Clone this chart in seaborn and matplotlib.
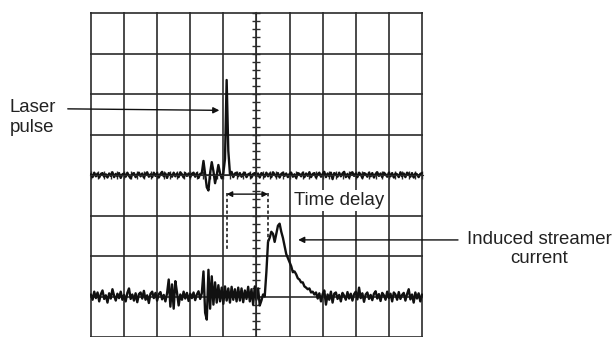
import numpy as np
import pandas as pd
import matplotlib.pyplot as plt
import seaborn as sns

# time axis in screen divisions (10 horizontal divisions, centre = 0)
t = np.linspace(-5, 5, 201)

# upper channel: laser pulse (divisions above its baseline)
laser = [
    0.02, -0.05, 0.06, -0.03, 0.04, -0.06, 0.03, 0.05, -0.04, 0.02,
    -0.06, 0.04, -0.02, 0.07, -0.05, 0.03, -0.03, 0.05, -0.07, 0.02,
    0.04, -0.04, 0.06, -0.02, -0.08, 0.03, 0.05, -0.05, 0.02, 0.06,
    -0.03, 0.04, -0.06, 0.03, 0.07, -0.04, 0.02, -0.05, 0.06, -0.02,
    0.05, -0.06, 0.03, 0.08, -0.03, 0.04, -0.07, 0.05, 0.02, -0.04,
    0.06, -0.03, 0.04, -0.05, 0.07, 0.02, -0.06, 0.05, -0.02, 0.04,
    -0.05, 0.03, 0.06, -0.04, 0.05, -0.07, 0.03, 0.05, 0.35, 0.02,
    -0.30, -0.38, 0.05, 0.32, 0.10, -0.20, 0.00, 0.25, 0.05, -0.08,
    0.05, 0.40, 2.35, 0.60, 0.03, 0.08, -0.05, 0.04, 0.06, -0.03,
    0.05, -0.04, 0.03, 0.06, -0.05, 0.02, 0.04, -0.06, 0.03, 0.05,
    -0.03, 0.04, -0.06, 0.05, 0.02, -0.04, 0.06, -0.03, 0.04, -0.05,
    0.07, 0.02, -0.04, 0.05, -0.06, 0.03, 0.06, -0.02, 0.04, -0.05,
    0.03, 0.06, -0.04, 0.02, -0.07, 0.05, 0.03, -0.03, 0.06, -0.05,
    0.04, -0.02, 0.07, -0.05, 0.03, 0.05, -0.06, 0.02, 0.06, -0.04,
    0.03, 0.08, -0.05, 0.04, -0.03, 0.06, -0.10, 0.05, 0.02, -0.04,
    0.06, -0.03, 0.04, 0.08, -0.05, 0.03, -0.06, 0.05, 0.07, -0.02,
    0.04, -0.05, 0.06, 0.02, -0.07, 0.05, 0.03, -0.04, 0.06, -0.03,
    0.05, -0.06, 0.03, 0.07, -0.02, 0.04, -0.05, 0.06, 0.02, -0.04,
    0.06, -0.03, 0.05, -0.06, 0.04, 0.02, -0.05, 0.07, -0.03, 0.04,
    -0.05, 0.06, 0.03, -0.04, 0.05, -0.06, 0.04, 0.02, -0.05, 0.03,
    0.05,
]

# lower channel: induced streamer current (divisions above its baseline)
streamer = [
    0.05, -0.08, 0.12, -0.04, 0.10, -0.12, 0.06, 0.15, -0.06, 0.03,
    -0.15, 0.08, -0.05, 0.18, 0.02, -0.10, 0.07, -0.04, 0.12, -0.08,
    0.04, -0.12, 0.09, 0.20, -0.06, 0.05, -0.10, 0.08, -0.14, 0.06,
    0.10, -0.05, 0.14, -0.08, 0.03, -0.16, 0.07, 0.12, -0.04, 0.09,
    -0.10, 0.06, 0.11, -0.07, 0.04, -0.12, 0.08, 0.42, -0.25, 0.30,
    -0.30, 0.38, 0.10, -0.22, 0.05, -0.08, 0.12, -0.05, 0.09, -0.11,
    0.07, -0.04, 0.10, -0.09, 0.05, 0.13, -0.06, 0.08, 0.62, -0.40,
    -0.57, 0.66, -0.30, 0.50, -0.20, 0.35, -0.15, 0.28, -0.12, 0.22,
    -0.18, 0.25, -0.10, 0.20, -0.15, 0.24, -0.08, 0.18, -0.12, 0.22,
    -0.10, 0.20, -0.14, 0.15, -0.06, 0.24, -0.12, 0.18, -0.20, 0.25,
    -0.08, 0.20, -0.22, -0.10, 0.05, 0.00, 0.60, 1.35, 1.45, 1.60,
    1.55, 1.35, 1.55, 1.75, 1.80, 1.60, 1.45, 1.25, 1.05, 0.95,
    0.85, 0.75, 0.60, 0.62, 0.55, 0.45, 0.42, 0.35, 0.35, 0.25,
    0.22, 0.18, 0.20, 0.10, 0.12, 0.05, 0.10, -0.05, 0.08, -0.12,
    0.06, 0.15, -0.20, 0.05, -0.08, 0.12, -0.15, 0.07, 0.10, -0.06,
    0.04, -0.12, 0.09, 0.02, -0.08, 0.11, -0.05, 0.07, -0.10, 0.06,
    0.12, -0.07, 0.22, -0.04, 0.08, -0.13, 0.05, 0.10, -0.06, 0.04,
    -0.09, 0.07, 0.13, -0.05, 0.06, -0.11, 0.09, 0.03, -0.08, 0.12,
    -0.04, 0.07, -0.12, 0.10, 0.05, -0.08, 0.11, -0.06, 0.04, 0.09,
    -0.10, 0.06, 0.18, -0.07, 0.05, -0.15, 0.10, -0.05, 0.08, -0.12,
    0.05,
]

laser_offset = 0.0
streamer_offset = -3.0

df = pd.DataFrame({
    "t": np.concatenate([t, t]),
    "v": np.concatenate([np.array(laser) + laser_offset,
                         np.array(streamer) + streamer_offset]),
    "trace": ["laser"] * len(t) + ["streamer"] * len(t),
})

sns.set_style("white")
plt.rcParams["font.family"] = ["Liberation Sans", "DejaVu Sans"]

fig = plt.figure(figsize=(6.16, 3.37), dpi=100)
ax = fig.add_axes([0.146, 0.0, 0.5406, 0.9644])

# oscilloscope graticule
ax.set_xlim(-5.03, 5.03)
ax.set_ylim(-4, 4.03)
ax.set_xticks(np.arange(-5, 6))
ax.set_yticks(np.arange(-4, 5))
ax.set_xticks(np.arange(-5, 5.01, 0.2), minor=True)
ax.set_yticks(np.arange(-4, 4.01, 0.2), minor=True)
ax.grid(True, which="major", color="#2b2b2b", lw=1.2)
ax.set_axisbelow(True)
for s in ["top", "right"]:
    ax.spines[s].set_visible(False)
ax.spines["left"].set_position(("data", 0))
ax.spines["bottom"].set_position(("data", 0))
ax.spines["left"].set_color("#2b2b2b")
ax.spines["bottom"].set_color("#2b2b2b")
ax.tick_params(which="both", direction="inout", length=6, width=1,
               color="#2b2b2b", labelleft=False, labelbottom=False,
               left=True, bottom=True)

sns.lineplot(data=df, x="t", y="v", units="trace", estimator=None,
             color="#111111", lw=1.7, sort=False, ax=ax)
ax.set_xlabel("")
ax.set_ylabel("")

# time delay markers
arr_t = np.array(t)
pulse_t = arr_t[int(np.argmax(laser))]
onset_i = int(np.argmax(np.array(streamer) > 1.0))
onset_t = arr_t[onset_i]
ax.plot([pulse_t, pulse_t], [-0.44, -1.85], color="#222222", lw=1.2,
        ls=(0, (2, 1.5)))
ax.plot([onset_t, onset_t], [-0.44, streamer_offset + streamer[onset_i]],
        color="#222222", lw=1.2, ls=(0, (2, 1.5)))
ax.annotate("", xy=(pulse_t, -0.47), xytext=(onset_t, -0.47),
            arrowprops=dict(arrowstyle="<|-|>", color="#111111", lw=1,
                            mutation_scale=8, shrinkA=0, shrinkB=0))
ax.text(1.12, -0.62, "Time delay", fontsize=13.4, ha="left", va="center",
        color="#222222",
        bbox=dict(facecolor="white", edgecolor="none", pad=1.5))

# labels with arrows
fig.text(0.016, 0.651, "Laser\npulse", fontsize=13.4, ha="left",
         va="center", color="#222222", linespacing=1.25)
ax.annotate("", xy=(-1.12, 1.6), xytext=(0.110, 0.677),
            textcoords="figure fraction",
            arrowprops=dict(arrowstyle="-|>", color="#111111", lw=1,
                            mutation_scale=9, shrinkA=0, shrinkB=0))
fig.text(0.875, 0.261, "Induced streamer\ncurrent", fontsize=13.4,
         ha="center", va="center", color="#222222", linespacing=1.2)
ax.annotate("", xy=(1.26, -1.6), xytext=(0.7435, 0.288),
            textcoords="figure fraction",
            arrowprops=dict(arrowstyle="-|>", color="#111111", lw=1,
                            mutation_scale=9, shrinkA=0, shrinkB=0))

fig.savefig("out.png", dpi=100)
